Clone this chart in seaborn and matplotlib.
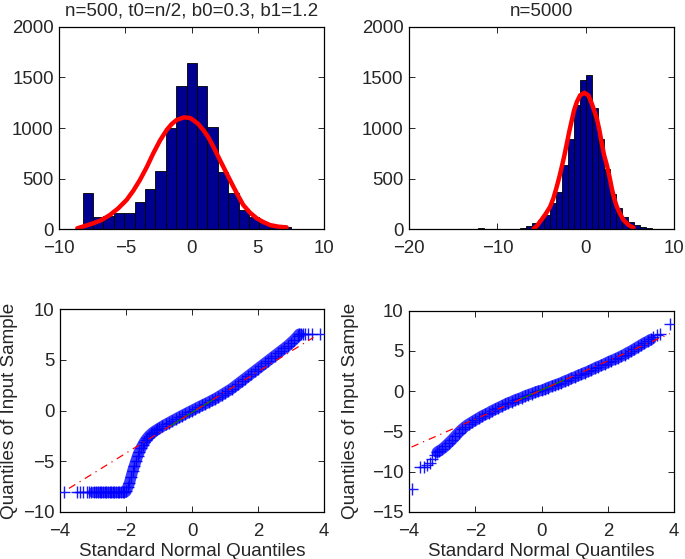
import numpy as np
import pandas as pd
import matplotlib
matplotlib.use("Agg")
import matplotlib.pyplot as plt
import seaborn as sns

# ---- histogram data (counts) ----
left_edges_lo, left_edges_hi, left_nbins = -8.24, 7.48, 20
left_counts = [360, 118, 135, 158, 158, 273, 398, 579, 1000, 1418,
               1645, 1418, 1013, 563, 362, 191, 118, 59, 26, 20]

right_edges_lo, right_edges_hi, right_nbins = -12.24, 8.16, 30
right_counts = [8, 0, 0, 4, 4, 4, 5, 12, 30, 58,
                88, 140, 260, 370, 633, 887, 1230, 1470, 1528, 1200,
                888, 595, 350, 207, 124, 72, 40, 18, 8, 6]

# fitted normal curves
left_fit_x = [-8.64, -8.07, -7.44, -6.80, -6.18, -5.55, -4.92, -4.41, -3.91, -3.40,
              -2.90, -2.40, -1.89, -1.51, -1.14, -0.58, -0.13, 0.12, 0.50, 0.88,
              1.26, 1.64, 2.01, 2.39, 2.77, 3.15, 3.52, 3.90, 4.41, 4.91,
              5.41, 5.92, 6.55, 7.18]
left_fit_y = [10, 33, 59, 92, 141, 207, 289, 381, 487, 612,
              750, 875, 980, 1039, 1079, 1105, 1099, 1079, 1039, 980,
              908, 816, 717, 618, 519, 421, 329, 240, 164, 109,
              72, 42, 26, 19]

right_fit_x = [-5.93, -5.55, -4.98, -4.50, -4.04, -3.67, -3.29, -2.99, -2.72, -2.42,
               -2.15, -1.86, -1.59, -1.33, -1.02, -0.65, -0.16, 0.30, 0.68, 0.94,
               1.25, 1.54, 1.81, 2.07, 2.38, 2.68, 2.94, 3.21, 3.51, 3.89,
               4.26, 4.83, 5.39]
right_fit_y = [3, 32, 98, 157, 222, 305, 419, 518, 616, 731,
               846, 970, 1075, 1174, 1256, 1322, 1348, 1322, 1240, 1174,
               1092, 977, 846, 731, 633, 518, 403, 305, 222, 151,
               92, 42, 16]

# ---- QQ plot data (theoretical vs sample quantiles) ----
left_qq_x = [-3.88, -3.49, -3.38, -3.30, -3.19, -3.12, -3.05, -2.98, -2.92, -2.86,
             -2.80, -2.75, -2.70, -2.65, -2.60, -2.55, -2.50, -2.45, -2.40, -2.35,
             -2.30, -2.25, -2.20, -2.15, -2.10, -2.05, -2.00, -1.95, -1.90, -1.85,
             -1.80, -1.75, -1.70, -1.65, -1.60, -1.55, -1.50, -1.45, -1.40, -1.35,
             -1.30, -1.25, -1.20, -1.15, -1.10, -1.05, -1.00, -0.90, -0.80, -0.70,
             -0.60, -0.50, -0.40, -0.30, -0.20, -0.10, 0.00, 0.10, 0.20, 0.30,
             0.40, 0.50, 0.60, 0.70, 0.80, 0.90, 1.00, 1.10, 1.20, 1.30,
             1.40, 1.50, 1.60, 1.70, 1.80, 1.90, 2.00, 2.10, 2.20, 2.30,
             2.40, 2.50, 2.60, 2.70, 2.80, 2.90, 3.00, 3.10, 3.20, 3.25,
             3.30, 3.36, 3.43, 3.52, 3.63, 3.88]
left_qq_y = [-8.1, -8.1, -8.1, -8.1, -8.1, -8.1, -8.1, -8.1, -8.1, -8.1,
             -8.1, -8.1, -8.1, -8.1, -8.1, -8.1, -8.1, -8.1, -8.1, -8.1,
             -8.1, -8.1, -8.1, -8.1, -8.1, -8.1, -8.0, -7.6, -7.2, -6.6,
             -6.0, -5.5, -5.0, -4.5, -4.1, -3.75, -3.45, -3.15, -2.9, -2.7,
             -2.5, -2.35, -2.2, -2.08, -1.97, -1.87, -1.77, -1.57, -1.38, -1.2,
             -1.02, -0.85, -0.67, -0.5, -0.33, -0.16, 0.0, 0.17, 0.34, 0.5,
             0.66, 0.82, 0.99, 1.16, 1.35, 1.55, 1.75, 1.95, 2.15, 2.4,
             2.65, 2.9, 3.15, 3.4, 3.65, 3.9, 4.15, 4.4, 4.65, 4.9,
             5.15, 5.4, 5.65, 5.9, 6.15, 6.4, 6.7, 7.0, 7.35, 7.55,
             7.6, 7.6, 7.6, 7.6, 7.6, 7.6]

right_qq_x = [-3.92, -3.67, -3.55, -3.45, -3.38, -3.30, -3.22, -3.15, -3.10,
              -3.00, -2.90, -2.80, -2.70, -2.60, -2.50, -2.40, -2.30, -2.20, -2.10,
              -2.00, -1.90, -1.80, -1.70, -1.60, -1.50, -1.40, -1.30, -1.20, -1.10,
              -1.00, -0.90, -0.80, -0.70, -0.60, -0.50, -0.40, -0.30, -0.20, -0.10,
              0.00, 0.10, 0.20, 0.30, 0.40, 0.50, 0.60, 0.70, 0.80, 0.90,
              1.00, 1.10, 1.20, 1.30, 1.40, 1.50, 1.60, 1.70, 1.80, 1.90,
              2.00, 2.10, 2.20, 2.30, 2.40, 2.50, 2.60, 2.70, 2.80, 2.90,
              3.00, 3.10, 3.20, 3.30, 3.37, 3.47, 3.57, 3.87]
right_qq_y = [-12.15, -9.45, -9.45, -9.25, -8.9, -8.5, -7.9, -7.6, -7.45,
              -7.2, -6.85, -6.45, -6.05, -5.6, -5.15, -4.75, -4.4, -4.1, -3.85,
              -3.6, -3.35, -3.1, -2.9, -2.7, -2.45, -2.25, -2.05, -1.85, -1.65,
              -1.45, -1.3, -1.1, -0.95, -0.8, -0.6, -0.45, -0.3, -0.15, 0.0,
              0.1, 0.25, 0.45, 0.6, 0.75, 0.9, 1.05, 1.25, 1.4, 1.6,
              1.75, 1.95, 2.1, 2.3, 2.45, 2.65, 2.85, 3.05, 3.2, 3.4,
              3.6, 3.8, 3.95, 4.15, 4.35, 4.55, 4.8, 5.0, 5.25, 5.5,
              5.75, 6.0, 6.2, 6.45, 6.75, 6.95, 7.1, 8.4]

# x-range where the sample is dense enough to form a solid band
left_dense = (-2.98, 3.25)
right_dense = (-3.15, 3.30)

# reference lines (dash-dot extension and quartile segment)
left_line_x = [-3.73, 3.68]
left_line_y = [-7.7, 7.22]
left_quart_x = [-0.674, 0.674]
left_quart_y = [-1.55, 1.15]
right_line_x = [-3.92, 3.87]
right_line_y = [-6.95, 7.15]
right_quart_x = [-0.674, 0.674]
right_quart_y = [-1.06, 1.37]

titles = ["n=500, t0=n/2, b0=0.3, b1=1.2", "n=5000"]

sns.set_style("ticks")
plt.rcParams['font.family'] = ['Liberation Sans', 'DejaVu Sans']

fig = plt.figure(figsize=(6.85, 5.59), dpi=100)
ax_tl = fig.add_axes([0.0866, 0.5898, 0.3864, 0.3624])
ax_tr = fig.add_axes([0.597, 0.5898, 0.3873, 0.3624])
ax_bl = fig.add_axes([0.0876, 0.0846, 0.3854, 0.3621])
ax_br = fig.add_axes([0.597, 0.0846, 0.3873, 0.3595])

bar_color = '#000090'
FS = 13.6


def hist_panel(ax, lo, hi, nb, counts, fx, fy, title):
    edges = np.linspace(lo, hi, nb + 1)
    df = pd.DataFrame({'x': (edges[:-1] + edges[1:]) / 2, 'w': counts})
    sns.histplot(data=df, x='x', weights='w', bins=list(edges), ax=ax,
                 color=bar_color, edgecolor='black', linewidth=0.6, alpha=1)
    sns.lineplot(x=fx, y=fy, ax=ax, color='#ff0000', linewidth=3.2, sort=False)
    ax.set_ylim(0, 2000)
    ax.set_yticks([0, 500, 1000, 1500, 2000])
    ax.set_ylabel('')
    ax.set_xlabel('')
    ax.set_title(title, fontsize=FS, pad=8)


def qq_panel(ax, qx, qy, dense, lx, ly, gx, gy):
    df = pd.DataFrame({'x': qx, 'y': qy})
    band = df[(df.x >= dense[0]) & (df.x <= dense[1])]
    sns.lineplot(data=band, x='x', y='y', ax=ax, color='#1a1aff', linewidth=8,
                 alpha=0.85, sort=False, zorder=2)
    sns.scatterplot(data=df, x='x', y='y', ax=ax, marker='+', s=85, color='#0000ff',
                    linewidth=1.0, alpha=0.9, zorder=3)
    ax.plot(gx, gy, color='#008000', linewidth=0.9, zorder=4)
    ax.plot(lx, ly, color='#ff0000', linestyle=(0, (6, 4, 1, 4)), linewidth=0.9, zorder=4)
    ax.set_xlim(-4, 4)
    ax.set_xticks([-4, -2, 0, 2, 4])
    ax.set_xlabel('Standard Normal Quantiles', fontsize=FS)
    ax.set_ylabel('Quantiles of Input Sample', fontsize=FS)


hist_panel(ax_tl, left_edges_lo, left_edges_hi, left_nbins, left_counts,
           left_fit_x, left_fit_y, titles[0])
ax_tl.set_xlim(-10, 10)
ax_tl.set_xticks([-10, -5, 0, 5, 10])

hist_panel(ax_tr, right_edges_lo, right_edges_hi, right_nbins, right_counts,
           right_fit_x, right_fit_y, titles[1])
ax_tr.set_xlim(-20, 10)
ax_tr.set_xticks([-20, -10, 0, 10])

qq_panel(ax_bl, left_qq_x, left_qq_y, left_dense, left_line_x, left_line_y,
         left_quart_x, left_quart_y)
ax_bl.set_ylim(-10, 10)
ax_bl.set_yticks([-10, -5, 0, 5, 10])

qq_panel(ax_br, right_qq_x, right_qq_y, right_dense, right_line_x, right_line_y,
         right_quart_x, right_quart_y)
ax_br.set_ylim(-15, 10)
ax_br.set_yticks([-15, -10, -5, 0, 5, 10])

for ax in [ax_tl, ax_tr, ax_bl, ax_br]:
    ax.tick_params(direction='in', length=4, width=0.7, labelsize=FS - 0.2,
                   top=True, right=True)
    ax.tick_params(axis='x', pad=8)
    ax.tick_params(axis='y', pad=4)
    for sp in ax.spines.values():
        sp.set_linewidth(0.9)
        sp.set_color('black')
    ax.grid(False)

ax_bl.yaxis.set_label_coords(-0.158, 0.5)
ax_br.yaxis.set_label_coords(-0.19, 0.5)
ax_bl.xaxis.set_label_coords(0.5, -0.155)
ax_br.xaxis.set_label_coords(0.5, -0.155)

plt.savefig('out.png', dpi=100)
